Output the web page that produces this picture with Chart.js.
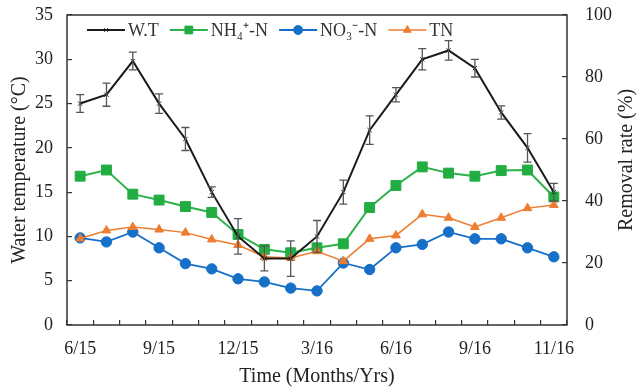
<!DOCTYPE html>
<html>
  <head>
    <title>Water temperature and removal rate</title>
    <script src="https://cdn.jsdelivr.net/npm/chart.js@4.4.1/dist/chart.umd.min.js"></script>
    <style>
      body { margin: 0; background: #fff; }
      #wrap { width: 641px; height: 389px; }
    </style>
  </head>
  <body>
    <div id="wrap"><canvas id="myChart" width="641" height="389"></canvas></div>

    <script>
      // monthly samples, only every third month is labelled
      var months = ["6/15", "", "", "9/15", "", "", "12/15", "", "", "3/16", "", "", "6/16", "", "", "9/16", "", "", "11/16"];

      var waterTemp = [25, 26, 29.8, 25, 21, 15, 10, 7.5, 7.5, 10, 15, 22, 26, 30, 31, 29, 24, 20, 15];
      var waterTempErr = [1.0, 1.3, 1.0, 1.1, 1.3, 0.6, 2.0, 1.4, 2.0, 1.8, 1.35, 1.6, 0.8, 1.2, 1.1, 1.0, 0.75, 1.6, 1.0];

      var nh4 = [48, 50, 42.2, 40.3, 38.2, 36.3, 29.2, 24.4, 23.3, 24.9, 26.2, 37.9, 45, 51, 49, 48, 49.8, 50, 41.3];
      var no3 = [28.1, 26.8, 30, 24.9, 19.8, 18.1, 14.9, 13.9, 11.9, 11, 20, 17.9, 24.9, 26, 30, 27.8, 27.8, 24.9, 22];
      var tn = [27.9, 30.5, 31.6, 30.8, 29.8, 27.6, 25.8, 22, 21.6, 23.8, 20.6, 27.8, 28.9, 35.7, 34.6, 31.6, 34.6, 37.7, 38.7];

      var serif = "'Liberation Serif', 'Times New Roman', serif";
      var axisColor = "#333";
      var textColor = "#222";

      // error bars for water temperature
      var errorBars = {
        id: "errorBars",
        afterDatasetsDraw: function (chart) {
          var meta = chart.getDatasetMeta(0);
          var y = chart.scales.y;
          var ctx = chart.ctx;
          ctx.save();
          ctx.strokeStyle = "#555";
          ctx.lineWidth = 1.3;
          meta.data.forEach(function (pt, i) {
            var top = y.getPixelForValue(waterTemp[i] + waterTempErr[i]);
            var bot = y.getPixelForValue(waterTemp[i] - waterTempErr[i]);
            ctx.beginPath();
            ctx.moveTo(pt.x, top);
            ctx.lineTo(pt.x, bot);
            ctx.moveTo(pt.x - 4, top);
            ctx.lineTo(pt.x + 4, top);
            ctx.moveTo(pt.x - 4, bot);
            ctx.lineTo(pt.x + 4, bot);
            ctx.stroke();
          });
          ctx.restore();
        },
      };

      // frame, legend inside the plot, right axis title
      var extras = {
        id: "extras",
        afterDraw: function (chart) {
          var ctx = chart.ctx;
          var a = chart.chartArea;
          ctx.save();
          ctx.strokeStyle = axisColor;
          ctx.lineWidth = 1.5;
          ctx.strokeRect(a.left, a.top, a.right - a.left, a.bottom - a.top);

          var x = 87;
          var ly = 30;
          ctx.font = "18px " + serif;
          ctx.textBaseline = "middle";
          chart.data.datasets.forEach(function (ds) {
            ctx.strokeStyle = ds.borderColor;
            ctx.lineWidth = ds.borderWidth;
            ctx.beginPath();
            ctx.moveTo(x, ly);
            ctx.lineTo(x + 38, ly);
            ctx.stroke();
            ctx.fillStyle = ds.pointBackgroundColor;
            ctx.strokeStyle = ds.pointBorderColor;
            ctx.lineWidth = 1;
            Chart.helpers.drawPoint(ctx, { pointStyle: ds.pointStyle, radius: ds.legendRadius, rotation: 0, borderWidth: 1 }, x + 19, ly);
            ctx.fillStyle = "#333";
            ctx.fillText(ds.label, x + 41, ly + 1);
            x += 41 + ctx.measureText(ds.label).width + 11;
          });

          ctx.translate(627, (a.top + a.bottom) / 2 - 10);
          ctx.rotate(-Math.PI / 2);
          ctx.textAlign = "center";
          ctx.fillStyle = textColor;
          ctx.font = "20px " + serif;
          ctx.fillText("Removal rate (%)", 0, 0);
          ctx.restore();
        },
      };

      function fixWidth(w) {
        return function (s) {
          s.width = w;
          s.paddingTop = 0;
          s.paddingBottom = 0;
        };
      }

      var ctx = document.getElementById("myChart").getContext("2d");
      var myChart = new Chart(ctx, {
        type: "line",
        data: {
          labels: months,
          datasets: [
            {
              label: "W.T",
              data: waterTemp,
              yAxisID: "y",
              borderColor: "#1a1a1a",
              borderWidth: 2,
              pointStyle: "crossRot",
              pointRadius: 3,
              pointBorderWidth: 1,
              pointBackgroundColor: "#1a1a1a",
              pointBorderColor: "#1a1a1a",
              legendRadius: 2.5,
              order: 0,
            },
            {
              label: "NH\u2084\u207A-N",
              data: nh4,
              yAxisID: "y1",
              borderColor: "#2cb34a",
              borderWidth: 2,
              pointStyle: "rect",
              pointRadius: 7,
              pointBorderWidth: 1,
              pointBackgroundColor: "#22ad42",
              pointBorderColor: "#22ad42",
              legendRadius: 5.5,
              order: 3,
            },
            {
              label: "NO\u2083\u207B-N",
              data: no3,
              yAxisID: "y1",
              borderColor: "#1670c8",
              borderWidth: 1.8,
              pointStyle: "circle",
              pointRadius: 5.2,
              pointBorderWidth: 1,
              pointBackgroundColor: "#1670c8",
              pointBorderColor: "#1670c8",
              legendRadius: 4.5,
              order: 2,
            },
            {
              label: "TN",
              data: tn,
              yAxisID: "y1",
              borderColor: "#ed7d31",
              borderWidth: 1.5,
              pointStyle: "triangle",
              pointRadius: 5,
              pointBorderWidth: 1,
              pointBackgroundColor: "#ed7d31",
              pointBorderColor: "#ed7d31",
              legendRadius: 4.5,
              order: 1,
            },
          ],
        },
        options: {
          responsive: false,
          animation: false,
          layout: { padding: { top: 15, left: 0, right: 0, bottom: 0 } },
          plugins: { legend: { display: false }, tooltip: { enabled: false } },
          elements: { line: { tension: 0 } },
          scales: {
            x: {
              type: "category",
              offset: true,
              border: { display: false },
              grid: { offset: true, drawOnChartArea: false, tickLength: -5, color: axisColor, lineWidth: 1.2 },
              ticks: { autoSkip: false, maxRotation: 0, padding: 18, color: textColor, font: { family: serif, size: 18 } },
              title: { display: true, text: "Time (Months/Yrs)", color: textColor, font: { family: serif, size: 20 }, padding: { top: 0, bottom: 0 } },
              afterFit: function (s) { s.height = 64; },
            },
            y: {
              position: "left",
              min: 0,
              max: 35,
              border: { display: false },
              grid: { drawOnChartArea: false, tickLength: -5, color: axisColor, lineWidth: 1.2 },
              ticks: { stepSize: 5, padding: 19, color: textColor, font: { family: serif, size: 18 } },
              title: { display: true, text: "Water temperature (\u00B0C)", color: textColor, font: { family: serif, size: 20 }, padding: { top: 8, bottom: 0 } },
              afterFit: fixWidth(67),
            },
            y1: {
              position: "right",
              min: 0,
              max: 100,
              border: { display: false },
              grid: { drawOnChartArea: false, tickLength: -5, color: axisColor, lineWidth: 1.2 },
              ticks: { stepSize: 20, padding: 23, color: textColor, font: { family: serif, size: 18 } },
              afterFit: fixWidth(74),
            },
          },
        },
        plugins: [errorBars, extras],
      });
    </script>
  </body>
</html>
